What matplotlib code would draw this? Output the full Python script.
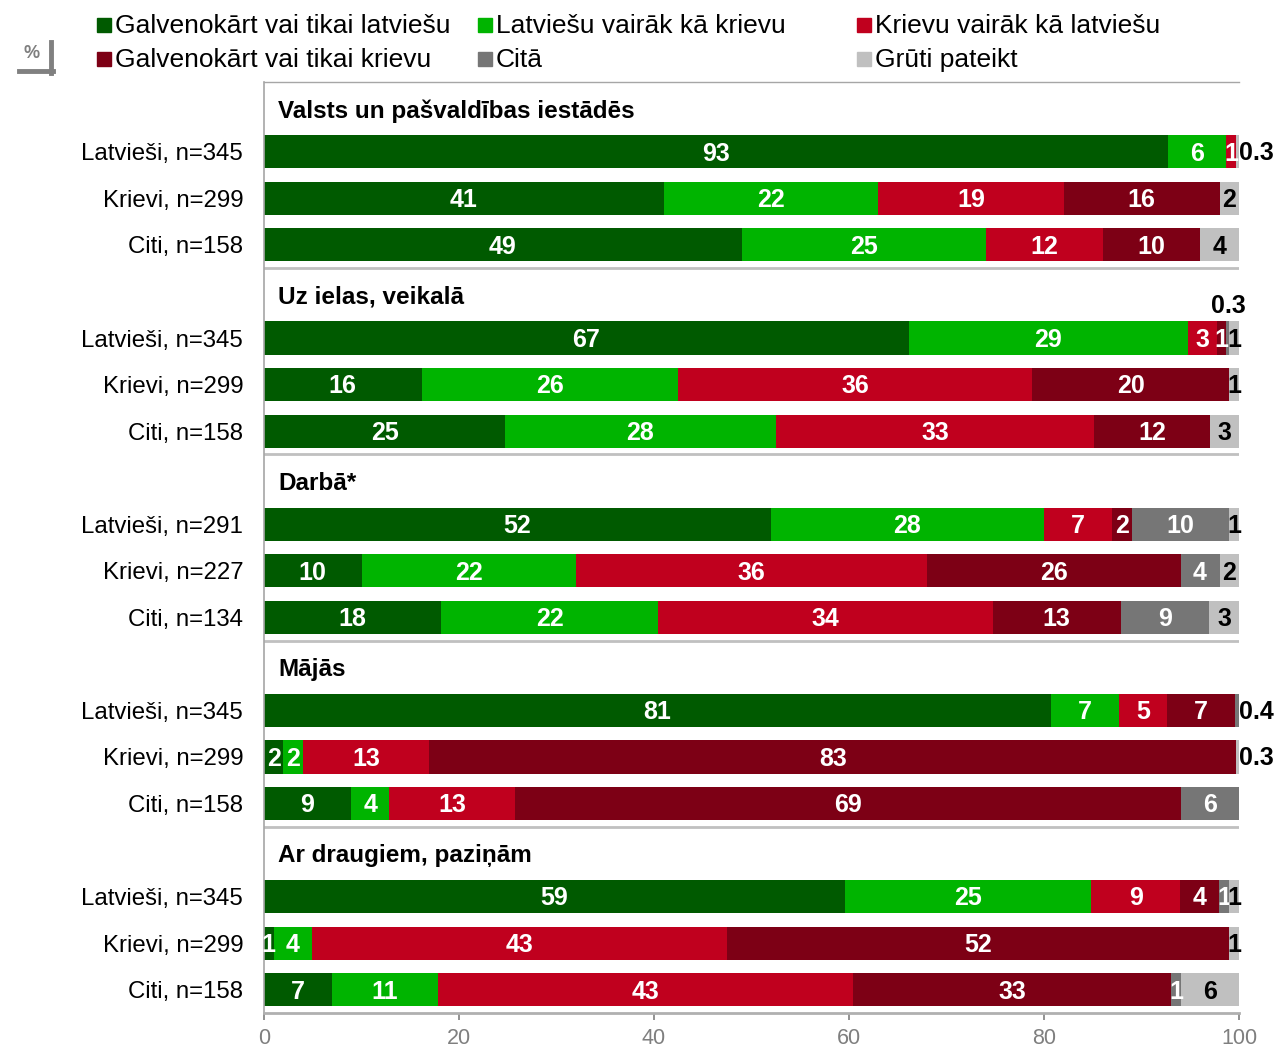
import numpy as np
import matplotlib
matplotlib.use('Agg')
import matplotlib.pyplot as plt
from matplotlib.patches import Rectangle
from matplotlib.lines import Line2D

plt.rcParams['font.family'] = ['Liberation Sans', 'DejaVu Sans']

# kategorijas / series
categories = ['Galvenokārt vai tikai latviešu', 'Latviešu vairāk kā krievu',
              'Krievu vairāk kā latviešu', 'Galvenokārt vai tikai krievu',
              'Citā', 'Grūti pateikt']
colors = ['#005a00', '#00b400', '#c0001e', '#7d0015', '#767676', '#c0c0c0']

groups = ['Valsts un pašvaldības iestādēs', 'Uz ielas, veikalā', 'Darbā*',
          'Mājās', 'Ar draugiem, paziņām']
row_labels = [
    ['Latvieši, n=345', 'Krievi, n=299', 'Citi, n=158'],
    ['Latvieši, n=345', 'Krievi, n=299', 'Citi, n=158'],
    ['Latvieši, n=291', 'Krievi, n=227', 'Citi, n=134'],
    ['Latvieši, n=345', 'Krievi, n=299', 'Citi, n=158'],
    ['Latvieši, n=345', 'Krievi, n=299', 'Citi, n=158'],
]

latv_only = [93, 41, 49, 67, 16, 25, 52, 10, 18, 81, 2, 9, 59, 1, 7]
latv_more = [6, 22, 25, 29, 26, 28, 28, 22, 22, 7, 2, 4, 25, 4, 11]
rus_more = [1, 19, 12, 3, 36, 33, 7, 36, 34, 5, 13, 13, 9, 43, 43]
rus_only = [0, 16, 10, 1, 20, 12, 2, 26, 13, 7, 83, 69, 4, 52, 33]
other = [0, 0, 0, 0.3, 0, 0, 10, 4, 9, 0.4, 0, 6, 1, 0, 1]
hard = [0.3, 2, 4, 1, 1, 3, 1, 2, 3, 0, 0.3, 0, 1, 1, 6]

series = [latv_only, latv_more, rus_more, rus_only, other, hard]
vals = np.array(series, dtype=float)          # 6 x 15
widths = vals / vals.sum(axis=0) * 100        # rindas summa = 100

# y pozicijas: katrai grupai 1 virsraksta rinda + 3 stabini
bar_y = []
head_y = []
for g in range(len(groups)):
    head_y.append(g * 4)
    for r in range(3):
        bar_y.append(g * 4 + 1 + r)
bar_y = np.array(bar_y)

fig = plt.figure(figsize=(12.77, 10.47), dpi=100)
ax = fig.add_axes([264 / 1277, 1 - 1013 / 1047, 975 / 1277, 931 / 1047])

NUM_FS = 18
left = np.zeros(len(bar_y))
for i in range(len(series)):
    ax.barh(bar_y, widths[i], left=left, height=0.71, color=colors[i],
            edgecolor='none', label=categories[i])
    for j in range(len(bar_y)):
        v = vals[i, j]
        if v == 0:
            continue
        txt = ('%g' % v)
        col = 'black' if i == 5 else 'white'
        cx = left[j] + widths[i, j] / 2
        if v < 0.5:
            later = vals[i + 1:, j].sum() if i < 5 else 0
            if later > 0:
                ax.text(cx, bar_y[j] - 0.68, txt, ha='center', va='center',
                        fontsize=NUM_FS, fontweight='bold', color='black')
            else:
                ax.text(99.95, bar_y[j] + 0.03, txt, ha='left', va='center',
                        fontsize=NUM_FS, fontweight='bold', color='black',
                        clip_on=False)
        else:
            ax.text(cx, bar_y[j] + 0.04, txt, ha='center', va='center',
                    fontsize=NUM_FS, fontweight='bold', color=col)
    left += widths[i]

for g, name in enumerate(groups):
    ax.text(1.45, head_y[g] + 0.12, name, ha='left', va='center',
            fontsize=17.5, fontweight='bold')

for g in range(1, len(groups)):
    ax.axhline(g * 4 - 0.5, color='#c0c0c0', lw=2, zorder=0)

ax.set_xlim(0, 100)
ax.set_ylim(19.5, -0.5)
ax.set_yticks(bar_y)
ax.set_yticklabels([l for grp in row_labels for l in grp], fontsize=17.3)
ax.tick_params(axis='y', length=0, pad=15)
ax.set_xticks(range(0, 101, 20))
ax.tick_params(axis='x', labelsize=15.5, colors='#7f7f7f', length=5, width=1.2,
               pad=6)
for lab in ax.get_xticklabels():
    lab.set_color('#7f7f7f')
ax.spines['right'].set_visible(False)
ax.spines['top'].set_color('#a6a6a6')
ax.spines['top'].set_linewidth(1)
ax.spines['left'].set_color('#a6a6a6')
ax.spines['left'].set_linewidth(1.2)
ax.spines['bottom'].set_color('#b0b0b0')
ax.spines['bottom'].set_linewidth(2)

# legenda
leg_x = [97, 478, 857]
leg_y = [25, 59]
W, H = 1277, 1047
for k, name in enumerate(categories):
    r = 0 if k in (0, 1, 2) else 1
    c = [0, 1, 2, 0, 1, 2][k]
    px, py = leg_x[c], leg_y[r]
    fig.add_artist(Rectangle((px / W, 1 - (py + 7) / H), 14 / W, 14 / H,
                             transform=fig.transFigure, color=colors[k]))
    fig.text((px + 18) / W, 1 - (py + 1) / H, name, ha='left', va='center',
             fontsize=19)

# % zīme
fig.text(32 / W, 1 - 53 / H, '%', ha='center', va='center', fontsize=13,
         color='#808080', fontweight='bold')
fig.add_artist(Line2D([51 / W, 51 / W], [1 - 42 / H, 1 - 73 / H],
                      transform=fig.transFigure, color='#808080', lw=3.5))
fig.add_artist(Line2D([19 / W, 53 / W], [1 - 71 / H, 1 - 71 / H],
                      transform=fig.transFigure, color='#808080', lw=3.5))

fig.savefig('out.png', dpi=100)
